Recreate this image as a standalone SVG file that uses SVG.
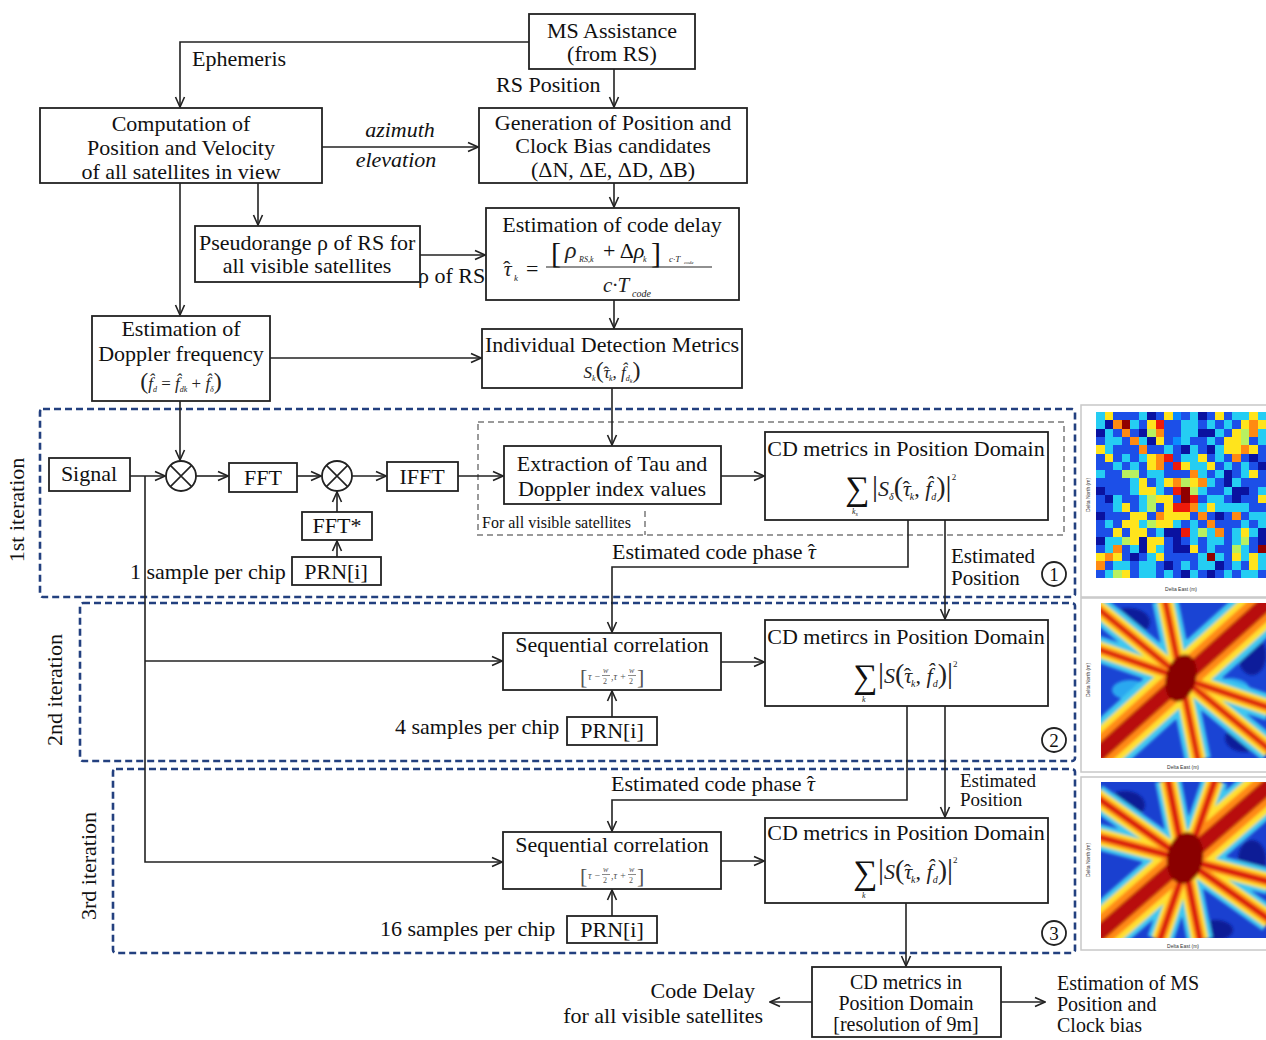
<svg xmlns="http://www.w3.org/2000/svg" xmlns:xlink="http://www.w3.org/1999/xlink" width="1266" height="1040" viewBox="0 0 1266 1040">
<style>
.t{font-family:"Liberation Serif","Times New Roman",serif;font-size:22px;fill:#111}
.m{text-anchor:middle}
.it{font-style:italic}
.fm{font-family:"Liberation Serif","Times New Roman",serif;font-style:italic;fill:#222}
.box{fill:#fff;stroke:#222;stroke-width:1.8}
.cn{fill:none;stroke:#222;stroke-width:1.6;marker-end:url(#ah)}
.ln{fill:none;stroke:#222;stroke-width:1.6}
.it-box{fill:none;stroke:#23407f;stroke-width:2.6;stroke-dasharray:7 4}
.gr-box{fill:none;stroke:#9a9a9a;stroke-width:2;stroke-dasharray:6 4}
.ax{font-family:"Liberation Sans",Arial,sans-serif;font-size:5px;fill:#333}
</style>
<defs>
<marker id="ah" viewBox="0 0 12 12" refX="11" refY="6" markerWidth="12" markerHeight="12" markerUnits="userSpaceOnUse" orient="auto">
<path d="M1,1.5 L11,6 L1,10.5" fill="none" stroke="#222" stroke-width="1.6"/>
</marker>
<clipPath id="cp1"><rect x="1096" y="412" width="170" height="166"/></clipPath>
<clipPath id="cp2"><rect x="1101" y="603" width="165" height="155"/></clipPath>
<clipPath id="cp3"><rect x="1101" y="782" width="165" height="156"/></clipPath>
<filter id="soft" x="-5%" y="-5%" width="110%" height="110%"><feGaussianBlur stdDeviation="1.6"/></filter>
<path id="s2a" d="M1095,757 L1270,600"/>
<path id="s2b" d="M1095,606 L1270,750 M1165,600 L1198,760 M1095,648 L1181,678 L1270,708"/>
<path id="s3a" d="M1095,937 L1270,785"/>
<path id="s3b" d="M1095,796 L1270,920 M1168,780 L1200,940 M1215,780 L1160,940 M1095,836 L1270,882"/>
</defs>
<rect width="1266" height="1040" fill="#fff"/>

<!-- iteration frames -->
<g id="iteration-frames">
<rect class="it-box" x="40" y="409" width="1035" height="188" rx="3"/>
<rect class="it-box" x="80" y="603" width="995" height="158" rx="3"/>
<rect class="it-box" x="113" y="769" width="962" height="184" rx="3"/>
<rect class="gr-box" x="478" y="422" width="586" height="113"/>
<line class="gr-box" x1="645" y1="511" x2="645" y2="535"/>
<text class="t m" transform="translate(24,510) rotate(-90)">1st iteration</text>
<text class="t m" transform="translate(62,690) rotate(-90)">2nd iteration</text>
<text class="t m" transform="translate(96,866) rotate(-90)">3rd iteration</text>
<text class="t" x="482" y="528" style="font-size:16px">For all visible satellites</text>
</g>

<!-- connectors -->
<g id="connectors">
<path class="cn" d="M529,42 H180 V107"/>
<path class="cn" d="M614,69 V107"/>
<path class="cn" d="M322,147 H478"/>
<path class="cn" d="M180,183 V315"/>
<path class="cn" d="M258,183 V225"/>
<path class="cn" d="M614,183 V207"/>
<path class="cn" d="M420,255 H485"/>
<path class="cn" d="M614,300 V328"/>
<path class="cn" d="M270,358 H481"/>
<path class="cn" d="M612,388 V445"/>
<path class="cn" d="M180,401 V460"/>
<path class="cn" d="M130,476 H165"/>
<path class="cn" d="M196,476 H228"/>
<path class="cn" d="M297,476 H321"/>
<path class="cn" d="M352,476 H386"/>
<path class="cn" d="M458,476 H503"/>
<path class="cn" d="M337,512 V492"/>
<path class="cn" d="M337,557 V541"/>
<path class="cn" d="M721,476 H764"/>
<path class="cn" d="M908,520 V567 H612 V632"/>
<path class="cn" d="M945,520 V619"/>
<path class="cn" d="M145,476 V862 H502"/>
<path class="cn" d="M145,661 H502"/>
<path class="cn" d="M721,662 H764"/>
<path class="cn" d="M612,717 V691"/>
<path class="cn" d="M907,706 V800 H612 V831"/>
<path class="cn" d="M945,706 V817"/>
<path class="cn" d="M721,861 H764"/>
<path class="cn" d="M612,916 V890"/>
<path class="cn" d="M906,903 V966"/>
<path class="cn" d="M812,1002 H770"/>
<path class="cn" d="M1001,1002 H1045"/>
<text class="t" x="192" y="66">Ephemeris</text>
<text class="t" x="496" y="92">RS Position</text>
<text class="t it m" x="400" y="137">azimuth</text>
<text class="t it m" x="396" y="167">elevation</text>
<text class="t" x="418" y="283">ρ of RS</text>
<text class="t" x="130" y="579">1 sample per chip</text>
<text class="t" x="612" y="559">Estimated code phase <tspan class="it">τ</tspan><tspan dx="-8.5">ˆ</tspan></text>
<text class="t" x="951" y="563" style="font-size:21px">Estimated</text>
<text class="t" x="951" y="585" style="font-size:21px">Position</text>
<text class="t" x="395" y="734">4 samples per chip</text>
<text class="t" x="611" y="791">Estimated code phase <tspan class="it">τ</tspan><tspan dx="-8.5">ˆ</tspan></text>
<text class="t" x="960" y="787" style="font-size:19px">Estimated</text>
<text class="t" x="960" y="806" style="font-size:19px">Position</text>
<text class="t" x="380" y="936">16 samples per chip</text>
<text class="t" x="755" y="998" text-anchor="end">Code Delay</text>
<text class="t" x="763" y="1023" text-anchor="end">for all visible satellites</text>
<text class="t" x="1057" y="990" style="font-size:20px">Estimation of MS</text>
<text class="t" x="1057" y="1011" style="font-size:20px">Position and</text>
<text class="t" x="1057" y="1032" style="font-size:20px">Clock bias</text>
</g>

<g id="ms-assistance">
<rect class="box" x="529" y="14" width="166" height="55"/>
<text class="t m" x="612" y="38">MS Assistance</text>
<text class="t m" x="612" y="61">(from RS)</text>
</g>

<g id="computation">
<rect class="box" x="40" y="108" width="282" height="75"/>
<text class="t m" x="181" y="131">Computation of</text>
<text class="t m" x="181" y="155">Position and Velocity</text>
<text class="t m" x="181" y="179">of all satellites in view</text>
</g>

<g id="generation">
<rect class="box" x="479" y="108" width="268" height="75"/>
<text class="t m" x="613" y="130">Generation of Position and</text>
<text class="t m" x="613" y="153">Clock Bias candidates</text>
<text class="t m" x="613" y="177">(ΔN, ΔE, ΔD, ΔB)</text>
</g>

<g id="pseudorange">
<rect class="box" x="195" y="226" width="225" height="56"/>
<text class="t" x="199" y="250">Pseudorange ρ of RS for</text>
<text class="t m" x="307" y="273">all visible satellites</text>
</g>

<g id="code-delay">
<rect class="box" x="486" y="208" width="253" height="92"/>
<text class="t m" x="612" y="232">Estimation of code delay</text>
<text class="fm" x="503" y="276" font-size="22">τ<tspan dx="-8.5" font-style="normal">ˆ</tspan></text>
<text class="fm" x="514" y="281" font-size="9">k</text>
<text class="t" x="526" y="276" font-size="22">=</text>
<line x1="546" y1="267" x2="712" y2="267" stroke="#222" stroke-width="1.2"/>
<text class="t" x="551" y="263" style="font-size:30px">[</text>
<text class="fm" x="565" y="258" font-size="24">ρ</text>
<text class="fm" x="579" y="262" font-size="8">RS,k</text>
<text class="t" x="603" y="258">+ Δ<tspan class="it">ρ</tspan></text>
<text class="fm" x="643" y="262" font-size="8">k</text>
<text class="t" x="651" y="263" style="font-size:30px">]</text>
<text class="fm" x="669" y="262" font-size="9">c·T</text>
<text class="fm" x="684" y="264" font-size="5">code</text>
<text class="fm" x="603" y="292" font-size="21">c·T</text>
<text class="fm" x="632" y="297" font-size="10">code</text>
</g>

<g id="doppler">
<rect class="box" x="92" y="316" width="178" height="85"/>
<text class="t m" x="181" y="336">Estimation of</text>
<text class="t m" x="181" y="361">Doppler frequency</text>
<text class="fm m" x="181" y="389" font-size="17"><tspan font-size="24" font-style="normal">(</tspan>f̂<tspan font-size="8" dy="3">d</tspan><tspan dy="-3" font-style="normal"> = </tspan>f̂<tspan font-size="8" dy="3">dk</tspan><tspan dy="-3" font-style="normal"> + </tspan>f̂<tspan font-size="8" dy="3">δ</tspan><tspan dy="-3" font-size="24" font-style="normal">)</tspan></text>
</g>

<g id="individual-detection">
<rect class="box" x="482" y="329" width="260" height="59"/>
<text class="t m" x="612" y="352">Individual Detection Metrics</text>
<text class="fm m" x="612" y="378" font-size="17">S<tspan font-size="8" dy="3">k</tspan><tspan dy="-3" font-size="24" font-style="normal">(</tspan>τ<tspan dx="-6.5" font-style="normal">ˆ</tspan><tspan font-size="8" dy="3">k</tspan><tspan dy="-3" font-style="normal">, </tspan>f̂<tspan font-size="8" dy="3">d</tspan><tspan font-size="6" dy="2">k</tspan><tspan dy="-5" font-size="24" font-style="normal">)</tspan></text>
</g>

<g id="signal">
<rect class="box" x="49" y="458" width="81" height="33"/>
<text class="t m" x="89" y="481">Signal</text>
</g>

<g id="multiplier-1">
<circle cx="181" cy="476" r="15" class="box"/>
<path class="ln" d="M170.4,465.4 L191.6,486.6 M191.6,465.4 L170.4,486.6"/>
</g>

<g id="fft">
<rect class="box" x="229" y="463" width="68" height="29"/>
<text class="t m" x="263" y="485">FFT</text>
</g>

<g id="multiplier-2">
<circle cx="337" cy="476" r="15" class="box"/>
<path class="ln" d="M326.4,465.4 L347.6,486.6 M347.6,465.4 L326.4,486.6"/>
</g>

<g id="ifft">
<rect class="box" x="387" y="462" width="71" height="29"/>
<text class="t m" x="422" y="484">IFFT</text>
</g>

<g id="fft-conj">
<rect class="box" x="302" y="512" width="70" height="28"/>
<text class="t m" x="337" y="533">FFT*</text>
</g>

<g id="prn-1">
<rect class="box" x="292" y="557" width="89" height="28"/>
<text class="t m" x="336" y="579">PRN[i]</text>
</g>

<g id="extraction">
<rect class="box" x="504" y="446" width="217" height="58"/>
<text class="t m" x="612" y="471">Extraction of Tau and</text>
<text class="t m" x="612" y="496">Doppler index values</text>
</g>

<g id="cd-metrics-1">
<rect class="box" x="765" y="432" width="283" height="88"/>
<text class="t m" x="906" y="456">CD metrics in Position Domain</text>
<text class="t" x="845" y="500" style="font-size:34px">∑</text>
<text class="fm" x="852" y="514" font-size="8">k<tspan font-size="6" dy="2">s</tspan></text>
<text class="fm" x="872" y="496" font-size="22"><tspan font-style="normal" font-size="30">|</tspan>S<tspan font-size="10" dy="4">δ</tspan><tspan dy="-4" font-size="28" font-style="normal">(</tspan>τ<tspan dx="-8.5" font-style="normal">ˆ</tspan><tspan font-size="10" dy="4">k</tspan><tspan dy="-4" font-style="normal">, </tspan>f̂<tspan font-size="10" dy="4">d</tspan><tspan dy="-4" font-size="28" font-style="normal">)</tspan><tspan font-style="normal" font-size="30">|</tspan><tspan font-size="9" dy="-16" font-style="normal">2</tspan></text>
</g>

<g id="seq-corr-2">
<rect class="box" x="503" y="633" width="218" height="57"/>
<text class="t m" x="612" y="652">Sequential correlation</text>
<g fill="#555" font-family="Liberation Serif, serif">
<text x="580" y="684" font-size="22">[</text>
<text x="588" y="680" font-size="10" font-style="italic">τ −</text>
<text x="603" y="673" font-size="8" font-style="italic">w</text>
<line x1="602" y1="675.5" x2="610" y2="675.5" stroke="#555" stroke-width="0.7"/>
<text x="603" y="684" font-size="8">2</text>
<text x="611" y="680" font-size="10" font-style="italic">,τ +</text>
<text x="629" y="673" font-size="8" font-style="italic">w</text>
<line x1="628" y1="675.5" x2="636" y2="675.5" stroke="#555" stroke-width="0.7"/>
<text x="629" y="684" font-size="8">2</text>
<text x="637" y="684" font-size="22">]</text>
</g>
</g>

<g id="cd-metrics-2">
<rect class="box" x="765" y="620" width="283" height="86"/>
<text class="t m" x="906" y="644">CD metircs in Position Domain</text>
<text class="t" x="853" y="688" style="font-size:34px">∑</text>
<text class="fm" x="862" y="702" font-size="8">k</text>
<text class="fm" x="878" y="683" font-size="22"><tspan font-style="normal" font-size="30">|</tspan>S<tspan dy="0" font-size="28" font-style="normal">(</tspan>τ<tspan dx="-8.5" font-style="normal">ˆ</tspan><tspan font-size="10" dy="4">k</tspan><tspan dy="-4" font-style="normal">, </tspan>f̂<tspan font-size="10" dy="4">d</tspan><tspan dy="-4" font-size="28" font-style="normal">)</tspan><tspan font-style="normal" font-size="30">|</tspan><tspan font-size="9" dy="-16" font-style="normal">2</tspan></text>
</g>

<g id="prn-2">
<rect class="box" x="567" y="717" width="90" height="28"/>
<text class="t m" x="612" y="738">PRN[i]</text>
</g>

<g id="seq-corr-3">
<rect class="box" x="503" y="832" width="218" height="57"/>
<text class="t m" x="612" y="852">Sequential correlation</text>
<g fill="#555" font-family="Liberation Serif, serif">
<text x="580" y="883" font-size="22">[</text>
<text x="588" y="879" font-size="10" font-style="italic">τ −</text>
<text x="603" y="872" font-size="8" font-style="italic">w</text>
<line x1="602" y1="874.5" x2="610" y2="874.5" stroke="#555" stroke-width="0.7"/>
<text x="603" y="883" font-size="8">2</text>
<text x="611" y="879" font-size="10" font-style="italic">,τ +</text>
<text x="629" y="872" font-size="8" font-style="italic">w</text>
<line x1="628" y1="874.5" x2="636" y2="874.5" stroke="#555" stroke-width="0.7"/>
<text x="629" y="883" font-size="8">2</text>
<text x="637" y="883" font-size="22">]</text>
</g>
</g>

<g id="cd-metrics-3">
<rect class="box" x="765" y="818" width="283" height="85"/>
<text class="t m" x="906" y="840">CD metrics in Position Domain</text>
<text class="t" x="853" y="884" style="font-size:34px">∑</text>
<text class="fm" x="862" y="898" font-size="8">k</text>
<text class="fm" x="878" y="879" font-size="22"><tspan font-style="normal" font-size="30">|</tspan>S<tspan dy="0" font-size="28" font-style="normal">(</tspan>τ<tspan dx="-8.5" font-style="normal">ˆ</tspan><tspan font-size="10" dy="4">k</tspan><tspan dy="-4" font-style="normal">, </tspan>f̂<tspan font-size="10" dy="4">d</tspan><tspan dy="-4" font-size="28" font-style="normal">)</tspan><tspan font-style="normal" font-size="30">|</tspan><tspan font-size="9" dy="-16" font-style="normal">2</tspan></text>
</g>

<g id="prn-3">
<rect class="box" x="567" y="916" width="90" height="27"/>
<text class="t m" x="612" y="937">PRN[i]</text>
</g>

<g id="badge-1"><circle cx="1054" cy="574" r="12" class="box"/><text class="t m" x="1054" y="581" style="font-size:19px">1</text></g>
<g id="badge-2"><circle cx="1054" cy="740" r="12" class="box"/><text class="t m" x="1054" y="747" style="font-size:19px">2</text></g>
<g id="badge-3"><circle cx="1054" cy="933" r="12" class="box"/><text class="t m" x="1054" y="940" style="font-size:19px">3</text></g>

<g id="final-cd-metrics">
<rect class="box" x="812" y="967" width="189" height="70"/>
<text class="t m" x="906" y="989" style="font-size:20px">CD metrics in</text>
<text class="t m" x="906" y="1010" style="font-size:20px">Position Domain</text>
<text class="t m" x="906" y="1031" style="font-size:20px">[resolution of 9m]</text>
</g>

<!-- heatmap panels -->
<g id="heatmap-1">
<rect x="1081" y="405" width="190" height="192" fill="#fff" stroke="#c8c8c8" stroke-width="1.5"/>
<g clip-path="url(#cp1)">
<rect x="1096" y="412" width="170" height="166" fill="#1c4fe8"/>
<g transform="translate(1096,412) scale(8.5,8.3)" shape-rendering="crispEdges">
<path fill="#25cdf3" d="M0,0h1v1h-1zM5,0h1v1h-1zM11,0h1v1h-1zM16,0h2v1h-2zM19,0h1v1h-1zM0,1h1v1h-1zM4,1h1v1h-1zM10,1h2v1h-2zM13,1h1v1h-1zM15,1h1v1h-1zM1,2h1v1h-1zM10,2h2v1h-2zM14,2h1v1h-1zM19,2h1v1h-1zM1,3h2v1h-2zM5,3h1v1h-1zM10,3h1v1h-1zM13,3h1v1h-1zM19,3h1v1h-1zM1,4h1v1h-1zM8,4h1v1h-1zM11,4h1v1h-1zM14,4h1v1h-1zM3,5h1v1h-1zM5,5h1v1h-1zM10,5h2v1h-2zM14,5h1v1h-1zM2,6h1v1h-1zM4,6h1v1h-1zM11,6h2v1h-2zM15,6h1v1h-1zM17,6h1v1h-1zM0,7h1v1h-1zM6,7h2v1h-2zM12,7h1v1h-1zM14,7h1v1h-1zM17,7h1v1h-1zM4,8h1v1h-1zM7,8h1v1h-1zM13,8h1v1h-1zM16,8h1v1h-1zM4,9h1v1h-1zM7,9h1v1h-1zM12,9h1v1h-1zM15,9h1v1h-1zM19,9h1v1h-1zM2,10h1v1h-1zM5,10h1v1h-1zM13,10h2v1h-2zM2,11h1v1h-1zM5,11h1v1h-1zM12,11h1v1h-1zM14,11h4v1h-4zM18,12h2v1h-2zM1,13h1v1h-1zM5,13h1v1h-1zM9,13h1v1h-1zM11,13h1v1h-1zM17,13h1v1h-1zM19,13h1v1h-1zM7,14h1v1h-1zM11,14h1v1h-1zM13,14h1v1h-1zM16,14h1v1h-1zM18,14h1v1h-1zM1,15h2v1h-2zM11,15h1v1h-1zM13,15h2v1h-2zM16,15h1v1h-1zM1,16h1v1h-1zM4,16h1v1h-1zM7,16h1v1h-1zM13,16h1v1h-1zM17,16h1v1h-1zM6,17h1v1h-1zM12,17h1v1h-1zM14,17h1v1h-1zM17,17h1v1h-1zM19,17h1v1h-1zM2,18h2v1h-2zM5,18h2v1h-2zM10,18h1v1h-1zM12,18h2v1h-2zM16,18h1v1h-1zM19,18h1v1h-1zM1,19h1v1h-1zM5,19h2v1h-2zM8,19h1v1h-1zM11,19h1v1h-1zM15,19h1v1h-1zM17,19h2v1h-2z"/>
<path fill="#ffe41c" d="M1,0h1v1h-1zM8,0h1v1h-1zM14,0h1v1h-1zM18,0h1v1h-1zM6,1h1v1h-1zM17,1h1v1h-1zM19,1h1v1h-1zM16,2h1v1h-1zM7,3h1v1h-1zM15,3h2v1h-2zM0,4h1v1h-1zM15,4h2v1h-2zM18,4h1v1h-1zM1,5h1v1h-1zM6,5h1v1h-1zM12,5h1v1h-1zM6,6h1v1h-1zM10,6h1v1h-1zM13,6h1v1h-1zM18,7h1v1h-1zM5,8h1v1h-1zM8,8h1v1h-1zM11,8h1v1h-1zM5,9h2v1h-2zM7,10h2v1h-2zM19,10h1v1h-1zM3,11h1v1h-1zM8,11h1v1h-1zM13,11h1v1h-1zM4,12h2v1h-2zM8,12h3v1h-3zM3,13h2v1h-2zM7,13h2v1h-2zM2,14h1v1h-1zM4,14h2v1h-2zM17,14h1v1h-1zM4,15h1v1h-1zM6,15h2v1h-2zM6,16h1v1h-1zM11,16h1v1h-1zM0,17h1v1h-1zM2,17h1v1h-1zM7,17h1v1h-1zM16,17h1v1h-1zM18,17h1v1h-1zM18,18h1v1h-1zM3,19h1v1h-1z"/>
<path fill="#0a12a0" d="M6,0h1v1h-1zM12,0h1v1h-1zM1,1h1v1h-1zM0,2h1v1h-1zM5,2h1v1h-1zM12,2h2v1h-2zM6,3h1v1h-1zM10,4h1v1h-1zM13,4h1v1h-1zM18,5h1v1h-1zM19,6h1v1h-1zM15,7h1v1h-1zM15,8h1v1h-1zM0,9h1v1h-1zM16,9h2v1h-2zM1,10h1v1h-1zM16,10h1v1h-1zM0,12h1v1h-1zM14,12h1v1h-1zM8,14h2v1h-2zM19,14h1v1h-1zM0,15h1v1h-1zM5,15h1v1h-1zM9,15h1v1h-1zM19,15h1v1h-1zM5,16h1v1h-1zM9,16h2v1h-2zM4,17h1v1h-1zM8,18h1v1h-1zM14,18h1v1h-1zM10,19h1v1h-1zM13,19h1v1h-1z"/>
<path fill="#ff8a12" d="M2,1h1v1h-1zM18,1h1v1h-1zM3,2h1v1h-1zM7,2h1v1h-1zM18,2h1v1h-1zM4,3h1v1h-1zM5,4h1v1h-1zM17,4h1v1h-1zM7,5h1v1h-1zM16,5h1v1h-1zM7,6h1v1h-1zM11,7h1v1h-1zM9,8h1v1h-1zM12,8h1v1h-1zM11,11h1v1h-1zM7,12h1v1h-1zM12,12h1v1h-1zM16,12h1v1h-1zM13,13h1v1h-1zM14,14h1v1h-1zM2,16h1v1h-1zM1,17h1v1h-1zM0,18h1v1h-1z"/>
<path fill="#ee1a0a" d="M7,1h1v1h-1zM8,5h1v1h-1zM9,6h1v1h-1zM9,9h1v1h-1zM11,10h1v1h-1zM9,11h2v1h-2zM10,14h1v1h-1z"/>
<path fill="#900000" d="M3,1h1v1h-1zM10,9h1v1h-1zM10,10h1v1h-1zM19,16h1v1h-1zM13,17h1v1h-1z"/>
<path fill="#b8f060" d="M6,2h1v1h-1zM17,2h1v1h-1zM17,3h1v1h-1zM3,7h2v1h-2zM10,8h1v1h-1zM11,9h1v1h-1zM6,10h1v1h-1zM6,11h1v1h-1zM6,13h1v1h-1zM12,14h1v1h-1zM3,15h1v1h-1zM17,15h1v1h-1zM16,16h1v1h-1zM2,19h1v1h-1z"/>
<path fill="#0a8cff" d="M9,0h1v1h-1zM9,3h1v1h-1z"/>
</g>
</g>
<text class="ax" x="1181" y="591" text-anchor="middle">Delta East (m)</text>
<text class="ax" transform="translate(1090,495) rotate(-90)" text-anchor="middle">Delta North (m)</text>
</g>

<g id="heatmap-2">
<rect x="1081" y="598" width="190" height="174" fill="#fff" stroke="#c8c8c8" stroke-width="1.5"/>
<g clip-path="url(#cp2)">
<rect x="1101" y="603" width="165" height="155" fill="#1a44d4"/>
<g filter="url(#soft)">
<ellipse cx="1128" cy="622" rx="22" ry="14" fill="#0c1c9a"/>
<ellipse cx="1245" cy="738" rx="20" ry="14" fill="#0c1c9a"/>
<ellipse cx="1252" cy="655" rx="14" ry="20" fill="#0c1c9a"/>
<ellipse cx="1130" cy="690" rx="18" ry="10" fill="#2aa8f0"/>
<ellipse cx="1230" cy="690" rx="20" ry="12" fill="#2aa8f0"/>
<use href="#s2b" stroke="#40c8f0" stroke-width="26" fill="none"/>
<use href="#s2a" stroke="#40c8f0" stroke-width="52" fill="none"/>
<use href="#s2b" stroke="#ffe030" stroke-width="16" fill="none"/>
<use href="#s2a" stroke="#ffe030" stroke-width="40" fill="none"/>
<use href="#s2b" stroke="#ff8a12" stroke-width="9" fill="none"/>
<use href="#s2a" stroke="#ff8a12" stroke-width="28" fill="none"/>
<use href="#s2b" stroke="#d81010" stroke-width="4" fill="none"/>
<use href="#s2a" stroke="#b80c0c" stroke-width="15" fill="none"/>
<ellipse cx="1181" cy="678" rx="15" ry="24" fill="#8a0000" transform="rotate(15 1181 678)"/>
</g>
</g>
<text class="ax" x="1183" y="769" text-anchor="middle">Delta East (m)</text>
<text class="ax" transform="translate(1090,680) rotate(-90)" text-anchor="middle">Delta North (m)</text>
</g>

<g id="heatmap-3">
<rect x="1081" y="777" width="190" height="173" fill="#fff" stroke="#c8c8c8" stroke-width="1.5"/>
<g clip-path="url(#cp3)">
<rect x="1101" y="782" width="165" height="156" fill="#1a40d0"/>
<g filter="url(#soft)">
<ellipse cx="1125" cy="805" rx="20" ry="14" fill="#0c1a96"/>
<ellipse cx="1252" cy="860" rx="14" ry="20" fill="#0c1a96"/>
<ellipse cx="1215" cy="930" rx="18" ry="10" fill="#0c1a96"/>
<ellipse cx="1235" cy="800" rx="16" ry="10" fill="#0c1a96"/>
<use href="#s3b" stroke="#40c8f0" stroke-width="26" fill="none"/>
<use href="#s3a" stroke="#40c8f0" stroke-width="50" fill="none"/>
<use href="#s3b" stroke="#ffe030" stroke-width="17" fill="none"/>
<use href="#s3a" stroke="#ffe030" stroke-width="40" fill="none"/>
<use href="#s3b" stroke="#ff8a12" stroke-width="10" fill="none"/>
<use href="#s3a" stroke="#ff8a12" stroke-width="28" fill="none"/>
<use href="#s3b" stroke="#d81010" stroke-width="5" fill="none"/>
<use href="#s3a" stroke="#b80c0c" stroke-width="15" fill="none"/>
<ellipse cx="1185" cy="858" rx="18" ry="26" fill="#8a0000" transform="rotate(10 1185 858)"/>
</g>
</g>
<text class="ax" x="1183" y="948" text-anchor="middle">Delta East (m)</text>
<text class="ax" transform="translate(1090,860) rotate(-90)" text-anchor="middle">Delta North (m)</text>
</g>
</svg>
